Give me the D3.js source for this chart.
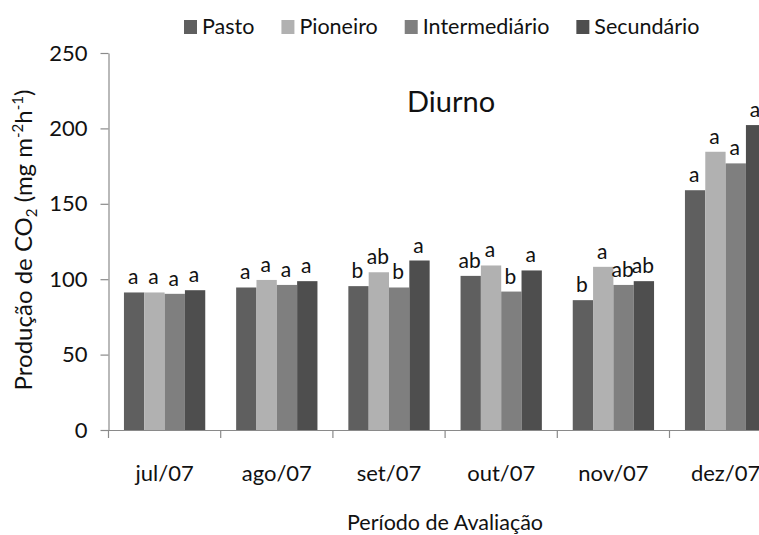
<!DOCTYPE html>
<html>
<head>
<meta charset="utf-8">
<script src="https://cdn.jsdelivr.net/npm/d3@7"></script>
<style>
  html, body { margin: 0; padding: 0; background: #fff; }
  svg { display: block; font-family: Lato, "Open Sans", sans-serif; }
</style>
</head>
<body>
<svg id="chart" width="759" height="535"></svg>
<script>
// Monthly daytime CO2 production per vegetation stage
const months = ["jul/07", "ago/07", "set/07", "out/07", "nov/07", "dez/07"];
const seriesNames = ["Pasto", "Pioneiro", "Intermediário", "Secundário"];
const pasto         = [91.2, 94.5, 95.4, 102.2, 86.1, 159.0];
const pioneiro      = [91.2, 99.5, 104.6, 109.1, 108.2, 184.5];
const intermediario = [90.3, 96.2, 94.5, 91.8, 96.2, 176.8];
const secundario    = [92.7, 98.7, 112.4, 105.8, 98.7, 202.2];
// Significance letters (Tukey) per month, one per series
const lettersPasto         = ["a", "a", "b", "ab", "b", "a"];
const lettersPioneiro      = ["a", "a", "ab", "a", "a", "a"];
const lettersIntermediario = ["a", "a", "b", "b", "ab", "a"];
const lettersSecundario    = ["a", "a", "a", "a", "ab", "a"];
const yTicks = [0, 50, 100, 150, 200, 250];

const values = [pasto, pioneiro, intermediario, secundario];
const letters = [lettersPasto, lettersPioneiro, lettersIntermediario, lettersSecundario];
const colors = ["#5f5f5f", "#b1b1b1", "#7f7f7f", "#4e4e4e"];

const svg = d3.select("#chart");
const plotLeft = 108.5, plotTop = 53, plotBottom = 430, step = 112.2;

const x0 = d3.scaleBand().domain(months).range([plotLeft, plotLeft + step * months.length]).padding(0);
const x1 = d3.scaleBand().domain(seriesNames).range([0, x0.bandwidth()]).paddingInner(0).paddingOuter(0.76);
const y = d3.scaleLinear().domain([0, 250]).range([plotBottom, plotTop]);
const color = d3.scaleOrdinal().domain(seriesNames).range(colors);

const rows = months.map((m, i) => ({
  month: m,
  bars: seriesNames.map((s, k) => ({ series: s, value: values[k][i], letter: letters[k][i] }))
}));

// Bars
const groups = svg.append("g").selectAll("g").data(rows).join("g")
  .attr("transform", d => `translate(${x0(d.month)},0)`);
groups.selectAll("rect").data(d => d.bars).join("rect")
  .attr("x", d => x1(d.series))
  .attr("y", d => y(d.value))
  .attr("width", x1.bandwidth())
  .attr("height", d => y(0) - y(d.value))
  .attr("fill", d => color(d.series));

// Letters above bars
groups.selectAll("text").data(d => d.bars).join("text")
  .attr("x", d => x1(d.series) + x1.bandwidth() / 2 - 1)
  .attr("y", d => y(d.value) - 8)
  .attr("text-anchor", "middle")
  .attr("font-size", 21)
  .attr("fill", "#111")
  .text(d => d.letter);

// Y axis
const yAxis = svg.append("g").attr("transform", `translate(${plotLeft},0)`)
  .call(d3.axisLeft(y).tickValues(yTicks).tickSize(8).tickSizeOuter(0).tickPadding(13));
yAxis.select(".domain").attr("stroke", "#8a8a8a").attr("stroke-width", 1.2);
yAxis.selectAll(".tick line").attr("stroke", "#8a8a8a").attr("stroke-width", 1.2);
yAxis.selectAll(".tick text").attr("font-size", 22).attr("fill", "#111").attr("font-family", "Lato");

// X axis: baseline, boundary ticks and month labels
const xAxis = svg.append("g").attr("transform", `translate(0,${plotBottom})`)
  .call(d3.axisBottom(x0).tickSize(0).tickPadding(35).tickSizeOuter(0));
xAxis.select(".domain").attr("stroke", "#8a8a8a").attr("stroke-width", 1.2);
xAxis.selectAll(".tick text").attr("font-size", 22).attr("fill", "#111").attr("font-family", "Lato");
svg.append("g").selectAll("line")
  .data(months.map(m => x0(m)).concat([x0.range()[1]]))
  .join("line")
  .attr("x1", d => d).attr("x2", d => d)
  .attr("y1", plotBottom).attr("y2", plotBottom + 8)
  .attr("stroke", "#8a8a8a").attr("stroke-width", 1.2);

// Axis titles
svg.append("text")
  .attr("x", 445).attr("y", 530)
  .attr("text-anchor", "middle")
  .attr("font-size", 21.5).attr("fill", "#111")
  .text("Período de Avaliação");

const yTitle = svg.append("text")
  .attr("transform", "translate(32,240) rotate(-90)")
  .attr("text-anchor", "middle")
  .attr("font-size", 24).attr("fill", "#111");
yTitle.append("tspan").text("Produção de CO");
yTitle.append("tspan").attr("font-size", 15).attr("dy", 5).text("2");
yTitle.append("tspan").attr("dy", -5).text(" (mg m");
yTitle.append("tspan").attr("font-size", 15).attr("dy", -9).text("-2");
yTitle.append("tspan").attr("dy", 9).text("h");
yTitle.append("tspan").attr("font-size", 15).attr("dy", -9).text("-1");
yTitle.append("tspan").attr("dy", 9).text(")");

// Chart title
svg.append("text")
  .attr("x", 407).attr("y", 112)
  .attr("font-size", 29).attr("fill", "#111")
  .text("Diurno");

// Legend
const legend = svg.append("g");
let lx = 184;
seriesNames.forEach(s => {
  legend.append("rect")
    .attr("x", lx).attr("y", 20).attr("width", 13).attr("height", 14)
    .attr("fill", color(s));
  const t = legend.append("text")
    .attr("x", lx + 18).attr("y", 33.5)
    .attr("font-size", 21.5).attr("fill", "#111")
    .text(s);
  lx += 18 + t.node().getComputedTextLength() + 27;
});
</script>
</body>
</html>
